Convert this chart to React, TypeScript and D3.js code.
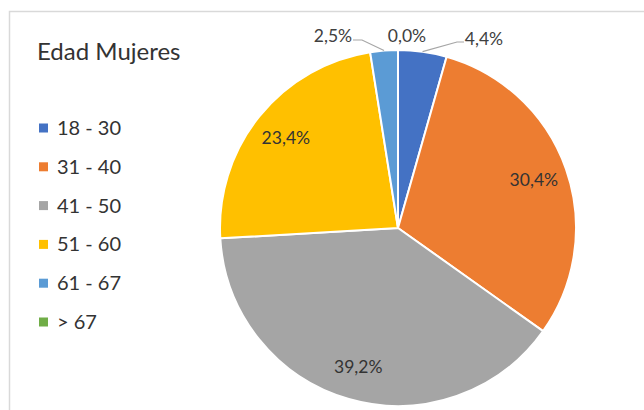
import React from "react";
import * as d3 from "d3";

const categories = ["18 - 30", "31 - 40", "41 - 50", "51 - 60", "61 - 67", "> 67"];
const values = [4.4, 30.4, 39.2, 23.4, 2.5, 0.0];
const labels = ["4,4%", "30,4%", "39,2%", "23,4%", "2,5%", "0,0%"];
const colors = ["#4472C4", "#ED7D31", "#A5A5A5", "#FFC000", "#5B9BD5", "#70AD47"];
const title = "Edad Mujeres";

const W = 644;
const H = 410;
const cx = 398;
const cy = 228;
const R = 178;
const font = "Lato, 'Open Sans', sans-serif";

export default function App() {
  const pie = d3.pie<number>().sort(null).value((d) => d)(values);
  const arc = d3.arc<d3.PieArcDatum<number>>().innerRadius(0).outerRadius(R);
  const labelArc = d3.arc<d3.PieArcDatum<number>>().innerRadius(144).outerRadius(144);

  // outside labels for small slices
  const outside: Record<number, { x: number; y: number; anchor: string; path: [number, number][] }> = {};
  pie.forEach((p, i) => {
    if (values[i] < 5) {
      const a = (p.startAngle + p.endAngle) / 2;
      const ex = cx + Math.sin(a) * R;
      const ey = cy - Math.cos(a) * R;
      if (i === 0) {
        outside[i] = { x: 484, y: 45, anchor: "middle", path: [[ex, ey], [457, 42], [464, 42]] };
      } else if (i === 4) {
        outside[i] = { x: 333, y: 42, anchor: "middle", path: [[ex, ey], [362, 40], [353, 40]] };
      } else {
        outside[i] = { x: 407, y: 42, anchor: "middle", path: [] };
      }
    }
  });

  const ly = d3.scalePoint<string>().domain(categories).range([128, 322]);

  return (
    <svg width={W} height={H} style={{ position: "absolute", left: 0, top: 0, background: "#fff" }}>
      <rect x={9.5} y={11.5} width={800} height={600} fill="#fff" stroke="#D9D9D9" strokeWidth={1.5} />
      <text x={37} y={60} fontFamily={font} fontSize={24} fill="#333333">{title}</text>
      {categories.map((c, i) => (
        <g key={c}>
          <rect x={39} y={(ly(c) as number) - 4.5} width={9} height={9} fill={colors[i]} />
          <text x={57} y={(ly(c) as number) + 7} fontFamily={font} fontSize={20} fill="#333333">{c}</text>
        </g>
      ))}
      <g transform={`translate(${cx},${cy})`}>
        {pie.map((p, i) => (
          <path key={i} d={arc(p) || ""} fill={colors[i]} stroke="#fff" strokeWidth={2} strokeLinejoin="round" />
        ))}
        {pie.map((p, i) => {
          if (values[i] < 5) return null;
          const [x, y] = labelArc.centroid(p);
          return (
            <text key={i} x={x} y={y} dy="0.35em" textAnchor="middle" fontFamily={font} fontSize={17.5} fill="#333333">
              {labels[i]}
            </text>
          );
        })}
      </g>
      {Object.entries(outside).map(([k, o]) => {
        const i = +k;
        return (
          <g key={k}>
            {o.path.length > 0 && (
              <polyline points={o.path.map((p) => p.join(",")).join(" ")} fill="none" stroke="#A6A6A6" strokeWidth={1.2} />
            )}
            <text x={o.x} y={o.y} textAnchor={o.anchor as any} fontFamily={font} fontSize={17.5} fill="#404040">
              {labels[i]}
            </text>
          </g>
        );
      })}
    </svg>
  );
}
